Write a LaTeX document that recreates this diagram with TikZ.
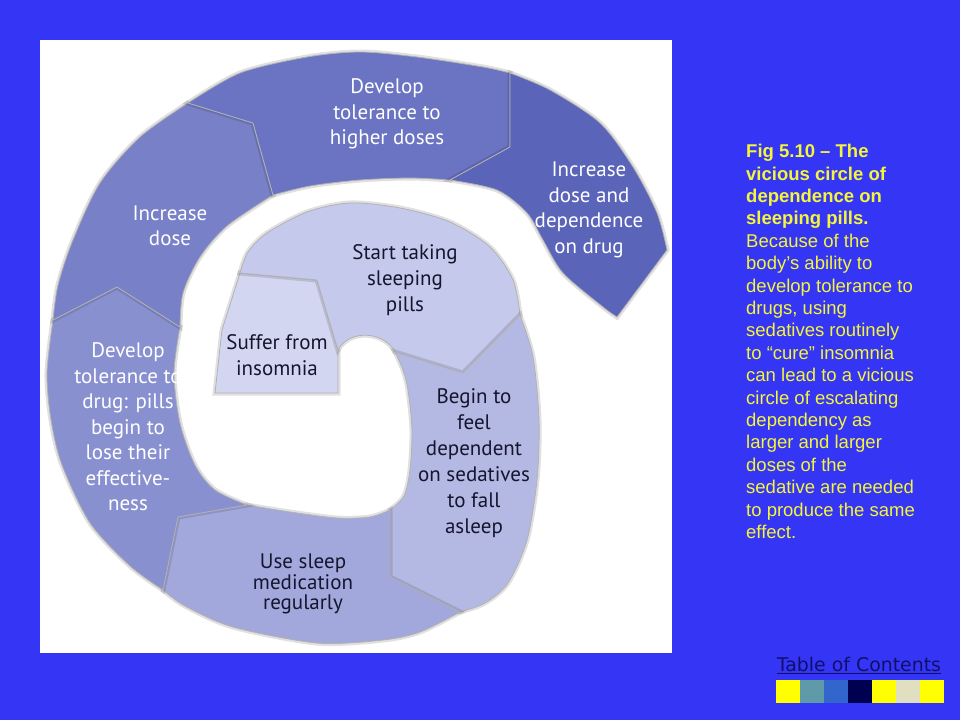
\documentclass[tikz,border=0pt]{standalone}
\usepackage{fontspec}
\setmainfont{PT Sans}
\newfontfamily\captionfont{Liberation Sans}
\newfontfamily\linkfont{DejaVu Sans}
\definecolor{slideblue}{HTML}{3535F5}
\definecolor{capyellow}{HTML}{F5F53C}
\definecolor{linknavy}{HTML}{10106A}
\definecolor{textdark}{HTML}{15152E}
\definecolor{suffercol}{HTML}{D3D6F0}
\definecolor{startcol}{HTML}{C5C9EC}
\definecolor{begincol}{HTML}{B4B9E4}
\definecolor{usecol}{HTML}{A2A8DC}
\definecolor{drugcol}{HTML}{8990D0}
\definecolor{dosecol}{HTML}{7880C8}
\definecolor{highcol}{HTML}{6A74C2}
\definecolor{depcol}{HTML}{5A64B9}
\definecolor{swatchyellow}{HTML}{FFFF00}
\definecolor{swatchteal}{HTML}{5F9AA8}
\definecolor{swatchblue}{HTML}{3366CC}
\definecolor{swatchnavy}{HTML}{000050}
\definecolor{swatchcream}{HTML}{E0E0C0}
\tikzstyle{seg}=[draw=black!30, line width=0.8pt, line join=round, preaction={draw=black, draw opacity=0.12, line width=5pt}]
\tikzstyle{inlabel}=[align=center, text=textdark, inner sep=0pt, font={\fontsize{21}{26}\selectfont}]
\tikzstyle{outlabel}=[align=center, text=white, inner sep=0pt, font={\fontsize{21}{25.5}\selectfont}]

\begin{document}
\begin{tikzpicture}[x=1pt, y=-1pt]

    \fill[slideblue] (0,0) rectangle (960,720);
    \fill[white] (40,40) rectangle (672,653);

    \draw[seg, fill=suffercol] (240,273) -- (317,280) -- (338,350) -- (338,393) -- (215,393) -- (222,330) -- cycle;
    \draw[seg, fill=startcol] (338,350) -- (317,280) -- (240,273) -- plot[smooth] coordinates {(240,273) (248,252) (267,233) (307,212) (350,203) (400,208) (450,222) (490,247) (513,280) (520,315)} -- (463,373) -- (395,352) .. controls (385,332) and (350,328) .. (338,350) -- cycle;
    \draw[seg, fill=begincol] (395,352) -- (463,373) -- (520,315) -- plot[smooth] coordinates {(520,315) (533,357) (539,420) (537,480) (527,540) (508,583) (485,603) (460,612)} -- (390,577) -- (390,510) -- plot[smooth] coordinates {(390,510) (404,496) (410,470) (412,430) (408,390) (403,370) (395,352)} -- cycle;
    \draw[seg, fill=usecol] (390,510) -- (390,577) -- (460,612) -- plot[smooth] coordinates {(460,612) (420,632) (383,640) (317,643) (233,627) (185,606) (163,590)} -- (178,517) -- (247,505) -- plot[smooth] coordinates {(247,505) (290,512) (337,518) (370,517) (390,510)} -- cycle;
    \draw[seg, fill=drugcol] (163,590) -- (178,517) -- (247,505) -- plot[smooth] coordinates {(247,505) (215,490) (195,465) (180,423) (174,373) (180,327)} -- (117,287) -- (53,320) -- plot[smooth] coordinates {(53,320) (47,373) (51,420) (62,465) (90,523) (130,566) (163,590)} -- cycle;
    \draw[seg, fill=dosecol] (53,320) -- (117,287) -- (180,327) -- plot[smooth] coordinates {(180,327) (183,293) (200,257) (227,226) (273,195)} -- (253,123) -- (188,103) -- plot[smooth] coordinates {(188,103) (140,137) (100,183) (73,240) (58,285) (53,320)} -- cycle;
    \draw[seg, fill=highcol] (188,103) -- (253,123) -- (273,195) -- plot[smooth] coordinates {(273,195) (310,186) (360,180) (410,178) (450,180)} -- (510,147) -- (510,73) -- plot[smooth] coordinates {(510,73) (483,67) (417,57) (360,52) (307,57) (240,73) (188,103)} -- cycle;
    \draw[seg, fill=depcol] (450,180) -- (510,147) -- (510,73) -- plot[smooth] coordinates {(510,73) (550,90) (600,123) (633,167) (657,213) (667,250)} -- (617,317) -- plot[smooth] coordinates {(617,317) (603,307) (563,273) (543,240) (527,213) (497,190) (450,180)} -- cycle;

    \node[inlabel] (suffer) at (277,355) {Suffer from\\insomnia};
    \node[inlabel] (start) at (405,280) {Start taking\\sleeping\\pills};
    \node[inlabel] (begin) at (474,463) {Begin to\\feel\\dependent\\on sedatives\\to fall\\asleep};
    \node[inlabel, font={\fontsize{21}{20.5}\selectfont}] (use) at (303,584) {Use sleep\\medication\\regularly};
    \node[outlabel] (drug) at (128,427) {Develop\\tolerance to\\drug: pills\\begin to\\lose their\\effective-\\ness};
    \node[outlabel] (dose) at (170,226) {Increase\\dose};
    \node[outlabel] (higher) at (387,114) {Develop\\tolerance to\\higher doses};
    \node[outlabel] (dependence) at (589,210) {Increase\\dose and\\dependence\\on drug};

    \node[anchor=north west, align=left, text=capyellow, inner sep=0pt, font={\captionfont\fontsize{18.5}{22.4}\selectfont}] (caption) at (746,144) {\textbf{Fig 5.10 – The}\\\textbf{vicious circle of}\\\textbf{dependence on}\\\textbf{sleeping pills.}\\Because of the\\body’s ability to\\develop tolerance to\\drugs, using\\sedatives routinely\\to “cure” insomnia\\can lead to a vicious\\circle of escalating\\dependency as\\larger and larger\\doses of the\\sedative are needed\\to produce the same\\effect.};

    \node[text=linknavy, inner sep=0pt, font={\linkfont\fontsize{18.9}{21}\selectfont}] (contents) at (859,665) {\underline{Table of Contents}};
    \foreach \c [count=\i from 0] in {swatchyellow, swatchteal, swatchblue, swatchnavy, swatchyellow, swatchcream, swatchyellow}
        \fill[\c] (776+24*\i,680) rectangle ++(24,23);

\end{tikzpicture}
\end{document}
